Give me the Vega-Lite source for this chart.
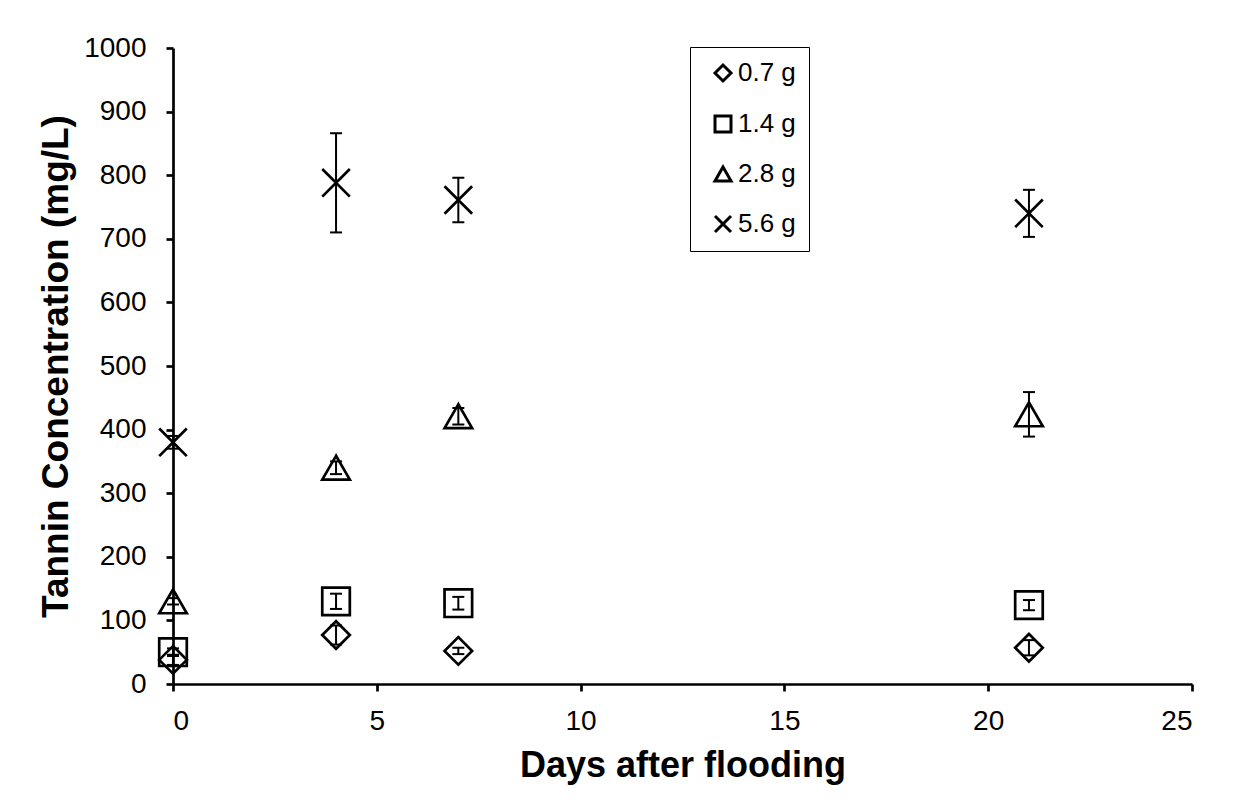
{
  "$schema": "https://vega.github.io/schema/vega-lite/v6.json",
  "width": 1019,
  "height": 636,
  "autosize": "none",
  "padding": {"left": 173, "top": 48, "right": 67, "bottom": 124},
  "background": "white",
  "config": {
    "view": {"stroke": null},
    "font": "Liberation Sans",
    "axis": {
      "grid": false,
      "domainColor": "black",
      "domainWidth": 2.7,
      "tickColor": "black",
      "tickWidth": 2.7,
      "tickSize": 7,
      "labelColor": "black",
      "labelFontSize": 28,
      "labelFont": "Liberation Sans",
      "titleColor": "black",
      "titleFontSize": 36,
      "titleFontWeight": "bold",
      "titleFont": "Liberation Sans"
    }
  },
  "data": {
    "values": [
      {"series": "0.7 g", "day": 0, "value": 38, "lo": 30, "hi": 46},
      {"series": "0.7 g", "day": 4, "value": 77, "lo": 62, "hi": 92},
      {"series": "0.7 g", "day": 7, "value": 52, "lo": 47, "hi": 57},
      {"series": "0.7 g", "day": 21, "value": 57, "lo": 45, "hi": 69},
      {"series": "1.4 g", "day": 0, "value": 50, "lo": 44, "hi": 56},
      {"series": "1.4 g", "day": 4, "value": 130, "lo": 118, "hi": 142},
      {"series": "1.4 g", "day": 7, "value": 127, "lo": 117, "hi": 137},
      {"series": "1.4 g", "day": 21, "value": 124, "lo": 116, "hi": 132},
      {"series": "2.8 g", "day": 0, "value": 130, "lo": 125, "hi": 135},
      {"series": "2.8 g", "day": 4, "value": 340, "lo": 330, "hi": 350},
      {"series": "2.8 g", "day": 7, "value": 421, "lo": 408, "hi": 434},
      {"series": "2.8 g", "day": 21, "value": 424, "lo": 389, "hi": 459},
      {"series": "5.6 g", "day": 0, "value": 380, "lo": 370, "hi": 390},
      {"series": "5.6 g", "day": 4, "value": 788, "lo": 710, "hi": 866},
      {"series": "5.6 g", "day": 7, "value": 761, "lo": 726, "hi": 796},
      {"series": "5.6 g", "day": 21, "value": 740, "lo": 703, "hi": 777}
    ]
  },
  "encoding": {
    "x": {
      "field": "day",
      "type": "quantitative",
      "scale": {"domain": [0, 25], "nice": false, "zero": true},
      "axis": {"values": [0, 5, 10, 15, 20, 25], "title": "Days after flooding", "labelPadding": 16, "titlePadding": 13}
    }
  },
  "layer": [
    {
      "mark": {"type": "rule", "stroke": "black", "strokeWidth": 2},
      "encoding": {
        "y": {"field": "lo", "type": "quantitative", "scale": {"domain": [0, 1000], "nice": false}, "axis": {"values": [0,100,200,300,400,500,600,700,800,900,1000], "format": "d", "title": "Tannin Concentration (mg/L)", "titleFontSize": 37, "labelPadding": 20, "titlePadding": 8}},
        "y2": {"field": "hi"}
      }
    },
    {
      "mark": {"type": "point", "shape": "M-1,0L1,0", "size": 144, "stroke": "black", "strokeWidth": 2, "filled": false, "opacity": 1},
      "encoding": {
        "y": {"field": "lo", "type": "quantitative", "scale": {"domain": [0, 1000], "nice": false}, "axis": {"values": [0,100,200,300,400,500,600,700,800,900,1000], "format": "d", "title": "Tannin Concentration (mg/L)", "titleFontSize": 37, "labelPadding": 20, "titlePadding": 8}}
      }
    },
    {
      "mark": {"type": "point", "shape": "M-1,0L1,0", "size": 144, "stroke": "black", "strokeWidth": 2, "filled": false, "opacity": 1},
      "encoding": {
        "y": {"field": "hi", "type": "quantitative", "scale": {"domain": [0, 1000], "nice": false}, "axis": {"values": [0,100,200,300,400,500,600,700,800,900,1000], "format": "d", "title": "Tannin Concentration (mg/L)", "titleFontSize": 37, "labelPadding": 20, "titlePadding": 8}}
      }
    },
    {
      "mark": {"type": "point", "size": 760, "stroke": "black", "strokeWidth": 2.7, "filled": false, "opacity": 1},
      "encoding": {
        "y": {"field": "value", "type": "quantitative", "scale": {"domain": [0, 1000], "nice": false}, "axis": {"values": [0,100,200,300,400,500,600,700,800,900,1000], "format": "d", "title": "Tannin Concentration (mg/L)", "titleFontSize": 37, "labelPadding": 20, "titlePadding": 8}},
        "shape": {
          "field": "series",
          "type": "nominal",
          "scale": {"domain": ["0.7 g", "1.4 g", "2.8 g", "5.6 g"], "range": ["diamond", "square", "triangle-up", "M-1,-1L1,1M-1,1L1,-1"]},
          "legend": {
            "orient": "none",
            "legendX": 517,
            "legendY": -1,
            "title": null,
            "strokeColor": "black",
            "fillColor": "white",
            "padding": 13,
            "symbolOffset": 7,
            "symbolSize": 256,
            "symbolStrokeWidth": 3,
            "symbolStrokeColor": "black",
            "symbolFillColor": "transparent",
            "labelFontSize": 26,
            "labelFont": "Liberation Sans",
            "labelColor": "black",
            "labelOffset": 2,
            "rowPadding": 23,
            "labelExpr": "datum.label + ' '"
          }
        }
      }
    }
  ]
}
